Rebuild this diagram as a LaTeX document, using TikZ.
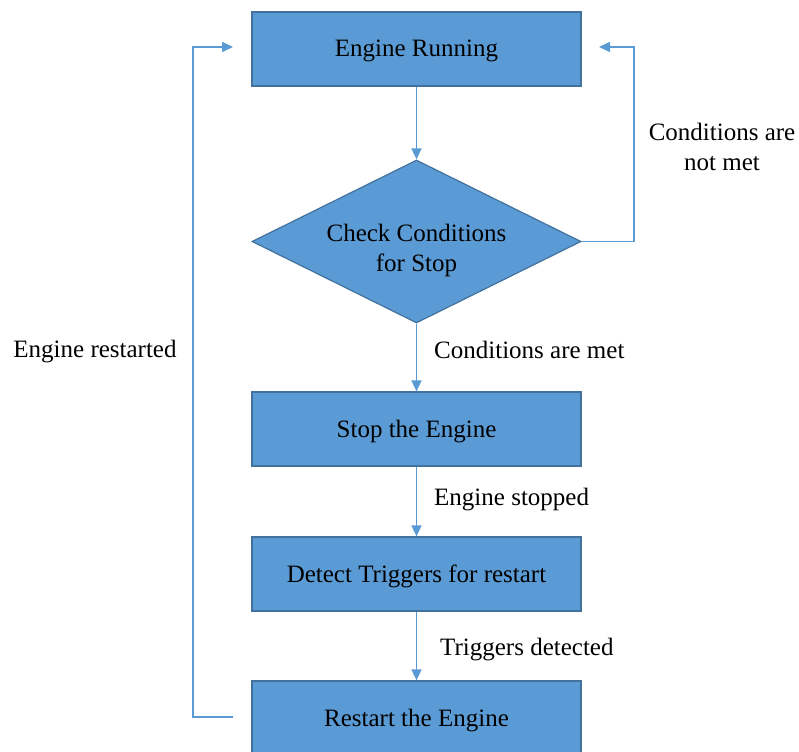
\documentclass[tikz,border=0pt]{standalone}
\usepackage{fontspec}
\setmainfont{Liberation Serif}
\usetikzlibrary{shapes.geometric,arrows.meta}
\definecolor{boxfill}{RGB}{91,155,213}
\definecolor{boxline}{RGB}{65,113,156}
\definecolor{arrowcol}{RGB}{91,155,213}
\tikzset{
  procbox/.style={draw=boxline, line width=1.2pt, fill=boxfill, minimum width=329pt, minimum height=74pt, inner sep=0pt, text height=18pt, text depth=2pt, font=\fontsize{25}{30}\selectfont},
  decbox/.style={diamond, aspect=2, draw=boxline, line width=1.2pt, fill=boxfill, minimum width=329pt, minimum height=163pt, inner sep=0pt},
  conn/.style={draw=arrowcol, line width=1.6pt, -{Triangle[length=11pt,width=10pt]}},
  lbl/.style={font=\fontsize{25}{30}\selectfont, inner sep=0pt, align=center}
}
\begin{document}
\begin{tikzpicture}[x=1pt,y=-1pt]
\useasboundingbox (0,0) rectangle (799,751);
\node[procbox] (run) at (416.5,49) {Engine Running};
\node[decbox] (check) at (416.5,241.5) {};
\node[lbl] (checktxt) at ([yshift=-9pt]check.center) {Check Conditions\\for Stop};
\node[procbox] (stop) at (416.5,429) {Stop the Engine};
\node[procbox] (detect) at (416.5,574) {Detect Triggers for restart};
\node[procbox] (restart) at (416.5,718) {Restart the Engine};

\draw[conn] (run.south) -- (check.north);
\draw[conn] (check.south) -- (stop.north);
\draw[conn] (stop.south) -- (detect.north);
\draw[conn] (detect.south) -- (restart.north);

% right loop
\coordinate (rcorner) at (634,241.5);
\coordinate (rtop) at (634,47);
\coordinate (rend) at (599,47);
\draw[conn] (check.east) -- (rcorner) -- (rtop) -- (rend);

% left loop
\coordinate (lstart) at (233,717);
\coordinate (lbot) at (193,717);
\coordinate (ltop) at (193,47);
\coordinate (lend) at (233,47);
\draw[conn] (lstart) -- (lbot) -- (ltop) -- (lend);

\node[lbl] (notmet) at (722,147) {Conditions are\\not met};
\node[lbl] (restarted) at (95,352) {Engine restarted};
\node[lbl, anchor=west] (met) at (434,350) {Conditions are met};
\node[lbl, anchor=west] (stopped) at (434,500) {Engine stopped};
\node[lbl, anchor=west] (detected) at (440,650) {Triggers detected};
\end{tikzpicture}
\end{document}
